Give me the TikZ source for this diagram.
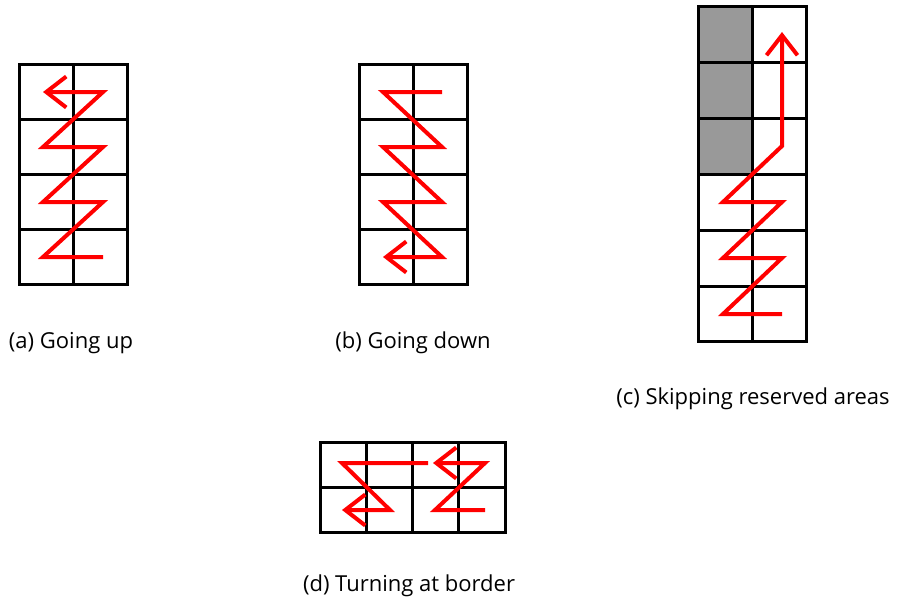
\documentclass[tikz,border=0pt]{standalone}
\usepackage{fontspec}
\setmainfont{Open Sans}
\usetikzlibrary{arrows.meta}
\definecolor{cellgray}{RGB}{153,153,153}
\definecolor{pathred}{RGB}{255,0,0}
\tikzset{
  gridline/.style={draw=black,line width=3pt},
  zig/.style={draw=pathred,line width=4pt,line join=miter},
  zigarrow/.style={zig,-{Straight Barb[length=20pt,width=31pt,line width=4pt]}},
  caption/.style={font=\fontsize{22}{26}\selectfont,inner sep=0pt},
}
\begin{document}
\begin{tikzpicture}[x=1pt,y=-1pt]
\useasboundingbox (0,0) rectangle (902,602);
% ---------- (a) ----------
\foreach \r in {0,...,3}{
  \foreach \c in {0,1}{
    \draw[gridline] (19+54*\c,65+54.8*\r) rectangle (73+54*\c,119.8+54.8*\r);
  }
}
\coordinate (a1) at (103,257);
\coordinate (a2) at (43,257);
\coordinate (a3) at (103,202);
\coordinate (a4) at (43,202);
\coordinate (a5) at (103,147);
\coordinate (a6) at (43,147);
\coordinate (a7) at (103,92);
\coordinate (a8) at (43,92);
\draw[zigarrow] (a1) -- (a2) -- (a3) -- (a4) -- (a5) -- (a6) -- (a7) -- (a8);
\node[caption] (capa) at (71,343) {(a) Going up};
% ---------- (b) ----------
\foreach \r in {0,...,3}{
  \foreach \c in {0,1}{
    \draw[gridline] (359+54*\c,65+54.8*\r) rectangle (413+54*\c,119.8+54.8*\r);
  }
}
\coordinate (b1) at (442,92);
\coordinate (b2) at (383,92);
\coordinate (b3) at (442,147);
\coordinate (b4) at (383,147);
\coordinate (b5) at (442,202);
\coordinate (b6) at (383,202);
\coordinate (b7) at (442,257);
\coordinate (b8) at (383,257);
\draw[zigarrow] (b1) -- (b2) -- (b3) -- (b4) -- (b5) -- (b6) -- (b7) -- (b8);
\node[caption] (capb) at (413,343) {(b) Going down};
% ---------- (c) ----------
\foreach \r in {0,1,2}{
  \fill[cellgray] (698.5,7+55.8*\r) rectangle (752.5,62.8+55.8*\r);
}
\foreach \r in {0,...,5}{
  \foreach \c in {0,1}{
    \draw[gridline] (698.5+54*\c,7+55.8*\r) rectangle (752.5+54*\c,62.8+55.8*\r);
  }
}
\coordinate (c1) at (782,314);
\coordinate (c2) at (723,314);
\coordinate (c3) at (782,258);
\coordinate (c4) at (723,258);
\coordinate (c5) at (782,202);
\coordinate (c6) at (723,202);
\coordinate (c7) at (782,146);
\coordinate (c8) at (782,32);
\draw[zigarrow] (c1) -- (c2) -- (c3) -- (c4) -- (c5) -- (c6) -- (c7) -- (c8);
\node[caption] (capc) at (753,399) {(c) Skipping reserved areas};
% ---------- (d) ----------
\foreach \r in {0,1}{
  \foreach \c in {0,...,3}{
    \draw[gridline] (320+46.25*\c,442+45*\r) rectangle (366.25+46.25*\c,487+45*\r);
  }
}
\coordinate (d1) at (485,510);
\coordinate (d2) at (435,510);
\coordinate (d3) at (485,463);
\coordinate (d4) at (433,463);
\coordinate (d5) at (428,463);
\coordinate (d6) at (342,463);
\coordinate (d7) at (390,510);
\coordinate (d8) at (342,510);
\draw[zigarrow] (d1) -- (d2) -- (d3) -- (d4);
\draw[zigarrow] (d5) -- (d6) -- (d7) -- (d8);
\node[caption] (capd) at (409,586) {(d) Turning at border};
\end{tikzpicture}
\end{document}
